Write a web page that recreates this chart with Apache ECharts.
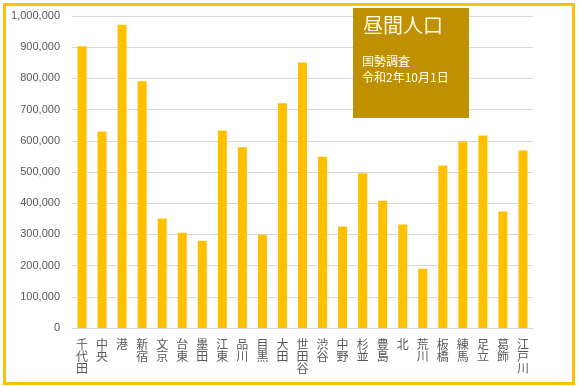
<!DOCTYPE html>
<html><head><meta charset="utf-8">
<script src="https://cdn.jsdelivr.net/npm/echarts@6/dist/echarts.min.js"></script>
<style>html,body{margin:0;padding:0;background:#fff}#c{width:580px;height:386px}</style>
</head><body><div id="c"></div>
<script>
const categories = ['千代田','中央','港','新宿','文京','台東','墨田','江東','品川','目黒','大田','世田谷','渋谷','中野','杉並','豊島','北','荒川','板橋','練馬','足立','葛飾','江戸川'];
const values = [903000,630000,972000,791000,351000,305000,280000,633000,579000,299000,720000,851000,549000,325000,496000,408000,332000,190000,521000,598000,617000,373000,569000];
const yTicks = {min:0, max:1000000, interval:100000};
const titleText = '昼間人口';
const subText1 = '国勢調査';
const subText2 = '令和2年10月1日';

const chart = echarts.init(document.getElementById('c'), null, {renderer:'canvas'});
const font = '"Noto Sans CJK JP", "Noto Sans", sans-serif';
chart.setOption({
  animation:false,
  grid:{left:72,right:47,top:16,bottom:58},
  xAxis:{type:'category',data:categories.map(s=>s.split('').join('\n')),
    axisLine:{lineStyle:{color:'#d9d9d9'}},axisTick:{show:false},
    axisLabel:{color:'#595959',fontSize:12,lineHeight:12,margin:10,interval:0,fontFamily:font,verticalAlign:'top'}},
  yAxis:{type:'value',min:yTicks.min,max:yTicks.max,interval:yTicks.interval,
    axisLine:{show:false},axisTick:{show:false},
    splitLine:{lineStyle:{color:'#d9d9d9'}},
    axisLabel:{color:'#595959',fontSize:11,margin:12,fontFamily:'"Liberation Sans", sans-serif',
      formatter:v=>v.toLocaleString('en-US')}},
  series:[{type:'bar',data:values,barWidth:9,itemStyle:{color:'#FFC000'}}],
  graphic:[
    {type:'rect',left:2,top:2,shape:{width:569,height:379},style:{fill:'none',stroke:'#FFC000',lineWidth:3},z:-1},
    {type:'rect',left:353,top:8,shape:{width:116,height:110},style:{fill:'#BF9000'},z:10},
    {type:'text',left:363,top:15,style:{text:titleText,fill:'#FFF8E6',font:'20px '+font},z:11},
    {type:'text',left:362,top:55,style:{text:subText1,fill:'#ffffff',font:'12px '+font},z:11},
    {type:'text',left:362,top:71,style:{text:subText2,fill:'#ffffff',font:'12px '+font},z:11}
  ]
});
</script></body></html>
